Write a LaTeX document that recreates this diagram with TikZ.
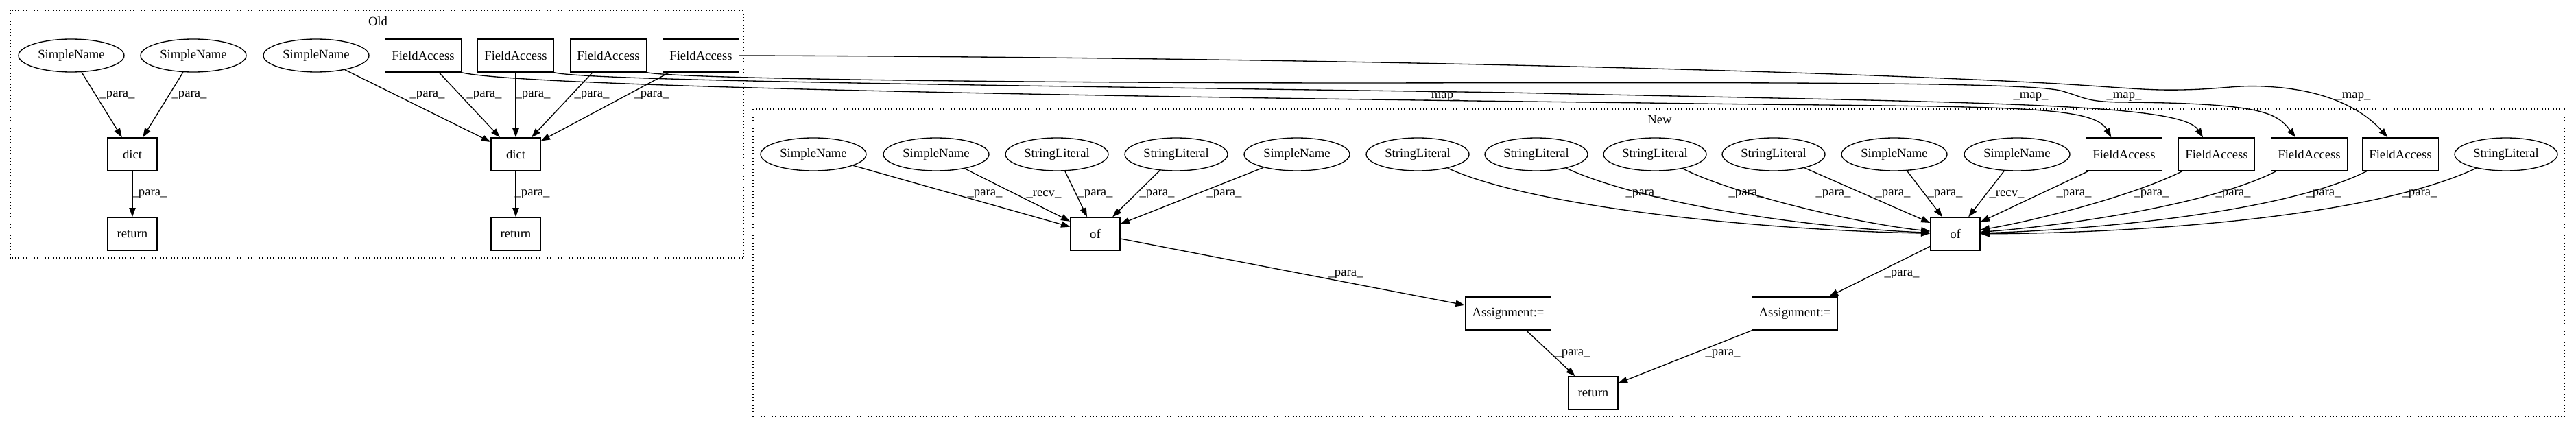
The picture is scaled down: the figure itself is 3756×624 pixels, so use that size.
\documentclass[tikz,border=0pt]{standalone}
\usepackage{fontspec}
\setmainfont{Liberation Serif}
\usetikzlibrary{arrows.meta,shapes.geometric}
\begin{document}
\begin{tikzpicture}[x=0.75pt,y=-0.75pt,
  every node/.style={font=\fontsize{14}{16}\selectfont},
  ell/.style={draw, ellipse, line width=1pt, minimum height=36pt, inner sep=0pt},
  sn/.style={ell, minimum width=115.5pt},
  sl/.style={ell, minimum width=112.5pt},
  box/.style={draw, rectangle, line width=1pt, minimum height=36pt, inner sep=0pt},
  fa/.style={box, minimum width=83pt},
  sbox/.style={box, minimum width=54pt},
  asg/.style={box, minimum width=94pt},
  e/.style={line width=1pt, -{Triangle[length=10pt,width=7pt]}},
  lbl/.style={inner sep=0pt},
  cluster/.style={dotted, line width=1pt}
]
\useasboundingbox (0,0) rectangle (3756,624);

% clusters
\draw[cluster] (15,15) rectangle (1084,376);
\node (oldlbl) at (551,31) {Old};
\draw[cluster] (1098,159) rectangle (3739,607);
\node (newlbl) at (2420,174) {New};

% Old nodes
\node[sn] (osn1) at (104,81) {SimpleName};
\node[sn] (osn2) at (282,81) {SimpleName};
\node[sn] (osn3) at (461,81) {SimpleName};
\node[fa] (ofa1) at (617,81) {FieldAccess};
\node[fa] (ofa2) at (752,81) {FieldAccess};
\node[fa] (ofa3) at (887,81) {FieldAccess};
\node[fa] (ofa4) at (1022,81) {FieldAccess};
\node[sbox] (od1) at (193,225) {dict};
\node[sbox] (or1) at (193,341) {return};
\node[sbox] (od2) at (752,225) {dict};
\node[sbox] (or2) at (752,341) {return};

% New nodes
\node[sn] (nsn1) at (1186,225) {SimpleName};
\node[sn] (nsn2) at (1365,225) {SimpleName};
\node[sl] (nsl1) at (1541,225) {StringLiteral};
\node[sl] (nsl2) at (1715,225) {StringLiteral};
\node[sn] (nsn3) at (1891,225) {SimpleName};
\node[sl] (nsl3) at (2067,225) {StringLiteral};
\node[sl] (nsl4) at (2240,225) {StringLiteral};
\node[sl] (nsl5) at (2413,225) {StringLiteral};
\node[sl] (nsl6) at (2586,225) {StringLiteral};
\node[sn] (nsn4) at (2762,225) {SimpleName};
\node[sn] (nsn5) at (2941,225) {SimpleName};
\node[fa] (nfa1) at (3097,225) {FieldAccess};
\node[fa] (nfa2) at (3232,225) {FieldAccess};
\node[fa] (nfa3) at (3367,225) {FieldAccess};
\node[fa] (nfa4) at (3500,225) {FieldAccess};
\node[sl] (nsl7) at (3654,225) {StringLiteral};
\node[sbox] (nof1) at (1597,341) {of};
\node[sbox] (nof2) at (2851,341) {of};
\node[asg] (nas1) at (2199,457) {Assignment:=};
\node[asg] (nas2) at (2617,457) {Assignment:=};
\node[sbox] (nret) at (2323,573) {return};

% Old edges
\draw[e] (osn1) -- (od1) node[lbl] at (171,139) {\_para\_};
\draw[e] (osn2) -- (od1) node[lbl] at (276,139) {\_para\_};
\draw[e] (od1) -- (or1) node[lbl] at (218,283) {\_para\_};
\draw[e] (osn3) -- (od2) node[lbl] at (623,139) {\_para\_};
\draw[e] (ofa1) -- (od2) node[lbl] at (706,139) {\_para\_};
\draw[e] (ofa2) -- (od2) node[lbl] at (777,139) {\_para\_};
\draw[e] (ofa3) -- (od2) node[lbl] at (863,139) {\_para\_};
\draw[e] (ofa4) -- (od2) node[lbl] at (950,139) {\_para\_};
\draw[e] (od2) -- (or2) node[lbl] at (776,283) {\_para\_};

% New edges into of1
\draw[e] (nsn1) -- (nof1) node[lbl] at (1436,283) {\_para\_};
\draw[e] (nsn2) -- (nof1) node[lbl] at (1522,283) {\_recv\_};
\draw[e] (nsl1) -- (nof1) node[lbl] at (1597,283) {\_para\_};
\draw[e] (nsl2) -- (nof1) node[lbl] at (1687,283) {\_para\_};
\draw[e] (nsn3) -- (nof1) node[lbl] at (1785,283) {\_para\_};
\draw[e] (nof1) -- (nas1) node[lbl] at (1962,400) {\_para\_};

% New edges into of2
\draw[e] (nsl3) .. controls (2230,300) and (2550,335) .. (nof2) node[lbl] at (2396,283) {\_para\_};
\draw[e] (nsl4) .. controls (2380,290) and (2600,330) .. (nof2) node[lbl] at (2546,283) {\_para\_};
\draw[e] (nsl5) .. controls (2520,280) and (2700,325) .. (nof2) node[lbl] at (2673,283) {\_para\_};
\draw[e] (nsl6) -- (nof2) node[lbl] at (2760,283) {\_para\_};
\draw[e] (nsn4) -- (nof2) node[lbl] at (2836,283) {\_para\_};
\draw[e] (nsn5) -- (nof2) node[lbl] at (2926,283) {\_recv\_};
\draw[e] (nfa1) -- (nof2) node[lbl] at (3024,283) {\_para\_};
\draw[e] (nfa2) .. controls (3100,290) and (2950,325) .. (nof2) node[lbl] at (3137,283) {\_para\_};
\draw[e] (nfa3) .. controls (3220,300) and (3000,330) .. (nof2) node[lbl] at (3256,283) {\_para\_};
\draw[e] (nfa4) .. controls (3330,310) and (3050,335) .. (nof2) node[lbl] at (3388,283) {\_para\_};
\draw[e] (nsl7) .. controls (3450,320) and (3100,340) .. (nof2) node[lbl] at (3528,283) {\_para\_};
\draw[e] (nof2) -- (nas2) node[lbl] at (2773,400) {\_para\_};

\draw[e] (nas1) -- (nret) node[lbl] at (2293,516) {\_para\_};
\draw[e] (nas2) -- (nret) node[lbl] at (2512,516) {\_para\_};

% map edges
\draw[e] (ofa1.south east) .. controls (750,125) and (1500,140) .. (2400,150)
  .. controls (2900,157) and (3050,150) .. ([xshift=-14pt]nfa1.north)
  node[lbl] at (2103,141) {\_map\_};
\draw[e] (ofa2.south east) .. controls (850,118) and (1500,125) .. (2200,135)
  .. controls (2900,150) and (3180,150) .. ([xshift=-15pt]nfa2.north)
  node[lbl] at (2961,141) {\_map\_};
\draw[e] (ofa3.south east) .. controls (990,115) and (1500,121) .. (2000,121)
  .. controls (2600,120) and (2950,120) .. (3004,132)
  .. controls (3040,142) and (3040,148) .. (3090,149)
  .. controls (3300,150) and (3320,165) .. ([xshift=-15pt]nfa3.north)
  node[lbl] at (3097,141) {\_map\_};
\draw[e] (ofa4.east) .. controls (1800,83) and (2600,100) .. (3000,122)
  .. controls (3100,128) and (3130,132) .. (3180,131)
  .. controls (3240,130) and (3260,124) .. (3300,126)
  .. controls (3400,130) and (3450,165) .. ([xshift=-14pt]nfa4.north)
  node[lbl] at (3431,141) {\_map\_};
\end{tikzpicture}
\end{document}
